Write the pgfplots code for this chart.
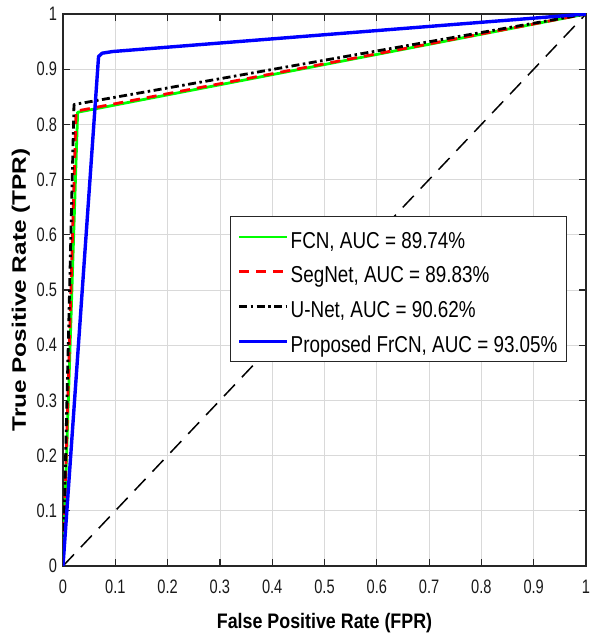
\documentclass[border=0pt]{standalone}
\usepackage{fontspec}
\setmainfont{Liberation Sans}
\newfontfamily\cf[FakeStretch=0.82]{Liberation Sans}
\newfontfamily\xf[FakeStretch=0.85]{Liberation Sans}
\newfontfamily\tf[FakeStretch=0.75]{Liberation Sans}
\newfontfamily\yf[FakeStretch=1.25]{Liberation Sans}
\usepackage{pgfplots}
\pgfplotsset{compat=1.18}
\definecolor{fcngreen}{RGB}{0,255,0}
\definecolor{segred}{RGB}{255,0,0}
\definecolor{frblue}{RGB}{0,0,255}

\begin{document}
\begin{tikzpicture}
\begin{axis}[
    at={(0,0)}, anchor=south west,
    scale only axis, width=523pt, height=552pt,
    xmin=0, xmax=1, ymin=0, ymax=1,
    xtick={0,0.1,0.2,0.3,0.4,0.5,0.6,0.7,0.8,0.9,1},
    ytick={0,0.1,0.2,0.3,0.4,0.5,0.6,0.7,0.8,0.9,1},
    xticklabels={0,0.1,0.2,0.3,0.4,0.5,0.6,0.7,0.8,0.9,1},
    yticklabels={0,0.1,0.2,0.3,0.4,0.5,0.6,0.7,0.8,0.9,1},
    grid=major,
    major grid style={draw=black!15, line width=0.8pt},
    axis line style={draw=black!85, line width=1.4pt},
    tick style={draw=black!85, line width=1.2pt},
    major tick length=7pt, tick align=inside,
    every tick label/.append style={font=\tf\fontsize{19.5}{20}\selectfont, text=black!90},
    every x tick label/.append style={text height=24pt, text depth=0pt},
    every y tick label/.append style={xshift=-2.4pt},
    every axis x label/.style={at={([yshift=-62pt]axis description cs:0.5,0)}, anchor=base,
        font=\xf\bfseries\fontsize{21}{22}\selectfont},
    every axis y label/.style={at={([xshift=-37pt]axis description cs:0,0.5)}, rotate=90, anchor=base,
        font=\yf\bfseries\fontsize{19.5}{20}\selectfont},
    xlabel={False Positive Rate (FPR)},
    ylabel={True Positive Rate (TPR)},
    legend cell align=left,
    legend style={at={(0.319,0.634)}, anchor=north west, draw=black!85, line width=1pt,
        fill=white, font=\cf\fontsize{23}{24}\selectfont,
        inner xsep=7pt, inner ysep=2.5pt, row sep=-1.2pt,
        nodes={text height=27pt, text depth=5pt, inner ysep=2pt, inner xsep=2pt}},
    legend image code/.code={\draw[#1] (0pt,0pt) -- (48pt,0pt);},
]
% chance line
\addplot[black, line width=1.5pt, dash pattern=on 16pt off 10pt, forget plot] coordinates {(0,0) (1,1)};
\addplot[fcngreen, line width=2.8pt, line join=round] coordinates {(0,0) (0.028,0.822) (1,1)};
\addlegendentry{FCN, AUC = 89.74\%}
\addplot[segred, line width=2.8pt, line join=round, dash pattern=on 10pt off 7pt] coordinates {(0,0) (0.025,0.824) (1,1)};
\addlegendentry{SegNet, AUC = 89.83\%}
\addplot[black, line width=2.8pt, line join=round, dash pattern=on 8pt off 3.5pt on 2.5pt off 3.5pt] coordinates {(0,0) (0.021,0.836) (1,1)};
\addlegendentry{U-Net, AUC = 90.62\%}
\addplot[frblue, line width=3.4pt, line join=round] coordinates {(0,0) (0.068,0.923) (0.075,0.929) (0.095,0.932) (1,1)};
\addlegendentry{Proposed FrCN, AUC = 93.05\%}
\end{axis}
\pgfresetboundingbox
\path (-63pt,-68pt) rectangle (527pt,566pt);
\end{tikzpicture}
\end{document}
